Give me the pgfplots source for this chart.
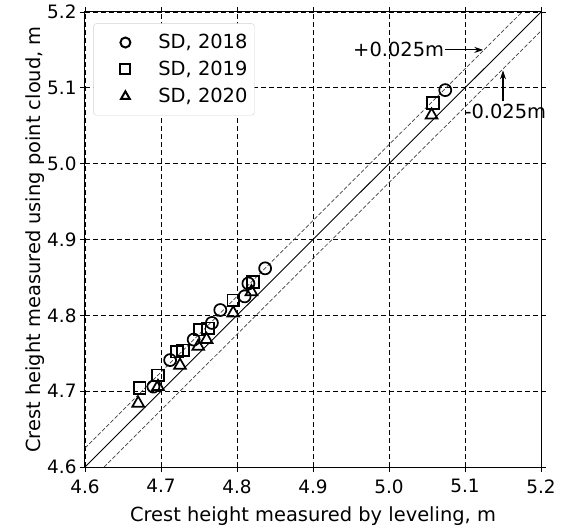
\documentclass[border=0pt]{standalone}
\usepackage{pgfplots}
\pgfplotsset{compat=1.18}
\usepackage{fontspec}
\setmainfont{DejaVu Sans}
\usetikzlibrary{arrows.meta}
\begin{document}
\begin{tikzpicture}[x=1bp,y=1bp]
\begin{axis}[at={(0,0)}, anchor=south west, scale only axis,
  width=456bp, height=455bp,
  xmin=4.6, xmax=5.2, ymin=4.6, ymax=5.2,
  xtick={4.6,4.7,4.8,4.9,5.0,5.1,5.2},
  ytick={4.6,4.7,4.8,4.9,5.0,5.1,5.2},
  xticklabels={4.6,4.7,4.8,4.9,5.0,5.1,5.2},
  yticklabels={4.6,4.7,4.8,4.9,5.0,5.1,5.2},
  tick align=outside, major tick length=5bp,
  tick style={black, line width=0.9bp},
  axis line style={line width=1bp},
  grid=major, grid style={dashed, black, line width=0.9bp, dash pattern=on 5bp off 3bp},
  tick label style={font=\fontsize{18.5}{20}\selectfont},
  xticklabel style={yshift=-4bp},
  label style={font=\fontsize{19.5}{22}\selectfont},
  xlabel={Crest height measured by leveling, m},
  ylabel={Crest height measured using point cloud, m},
  xlabel style={yshift=-6bp},
  ylabel style={yshift=-4bp},
  legend style={at={(0.018,0.975)}, anchor=north west, draw=gray!35, rounded corners=3bp,
    font=\fontsize{19.5}{22}\selectfont, row sep=7bp, inner xsep=5bp, inner ysep=9bp},
  legend image code/.code={\path[draw=none, fill=none] (0bp,-6bp) rectangle (58bp,6bp);
    \draw[#1, only marks, mark size=5bp, mark options={line width=2bp}] plot coordinates {(27bp,0bp)};},
  legend cell align=left,
  clip=false,
]
\addplot[black, line width=0.9bp, forget plot] coordinates {(4.6,4.6) (5.2,5.2)};
\addplot[black!75, line width=0.7bp, dash pattern=on 4bp off 2bp, forget plot] coordinates {(4.6,4.625) (5.175,5.2)};
\addplot[black!75, line width=0.7bp, dash pattern=on 4bp off 2bp, forget plot] coordinates {(4.625,4.6) (5.2,5.175)};
\addplot[only marks, mark=o, mark size=6bp, mark options={line width=1.7bp, black}] coordinates {
(5.074,5.097) (4.837,4.862) (4.815,4.842) (4.810,4.825) (4.778,4.807) (4.767,4.790)
(4.743,4.768) (4.712,4.741) (4.690,4.706)};
\addlegendentry{SD, 2018}
\addplot[only marks, mark=square, mark size=5.8bp, mark options={line width=1.7bp, black}] coordinates {
(5.058,5.080) (4.821,4.844) (4.795,4.820) (4.762,4.783) (4.751,4.781)
(4.729,4.754) (4.721,4.752) (4.696,4.721) (4.672,4.704)};
\addlegendentry{SD, 2019}
\addplot[only marks, mark=triangle, mark size=6.8bp, mark options={line width=1.7bp, black}] coordinates {
(5.056,5.064) (4.819,4.831) (4.795,4.803) (4.760,4.768) (4.749,4.759)
(4.725,4.734) (4.696,4.706) (4.670,4.684)};
\addlegendentry{SD, 2020}
\draw[-{Stealth[length=9bp,width=6bp]}, line width=1.1bp] (axis cs:5.074,5.15) -- (axis cs:5.124,5.15);
\node[anchor=east, font=\fontsize{19.5}{22}\selectfont, inner sep=1bp] at (axis cs:5.074,5.15) {+0.025m};
\draw[-{Stealth[length=9bp,width=6bp]}, line width=1.1bp] (axis cs:5.15,5.082) -- (axis cs:5.15,5.123);
\node[anchor=north, font=\fontsize{19.5}{22}\selectfont, inner sep=1bp] at (axis cs:5.153,5.080) {-0.025m};
\end{axis}
\useasboundingbox (-85,-59) rectangle (479,467);
\end{tikzpicture}
\end{document}
